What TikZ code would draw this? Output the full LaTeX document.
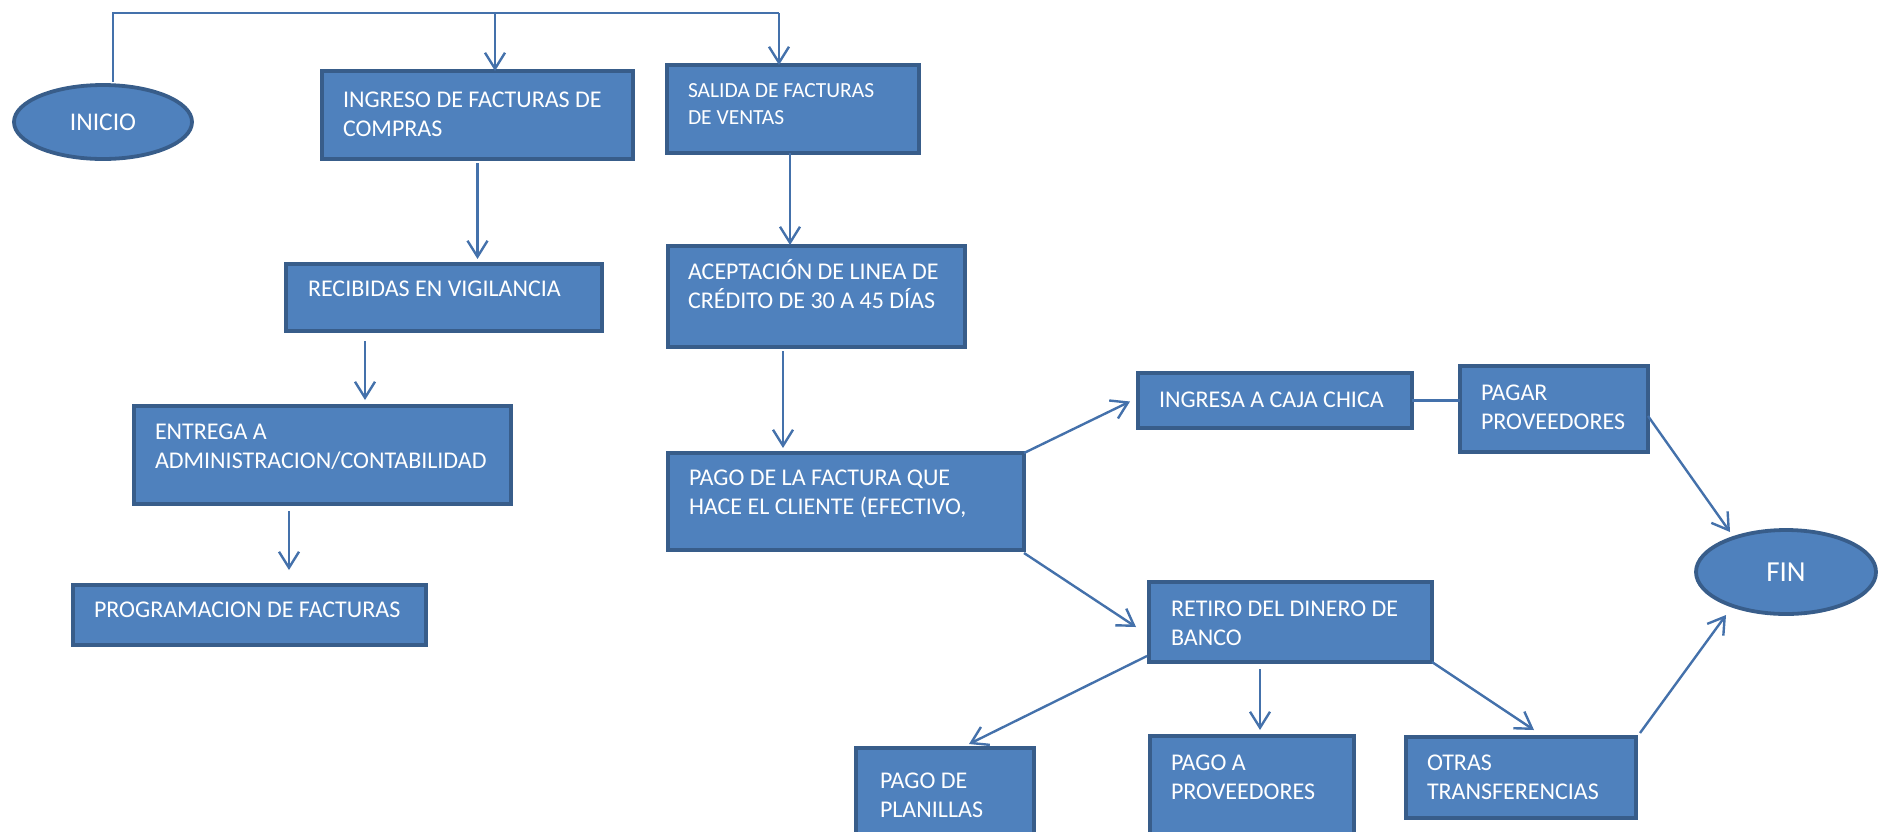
\documentclass[tikz,border=0pt]{standalone}
\usepackage{fontspec}
\setmainfont{Carlito}
\usetikzlibrary{arrows.meta,calc,shapes.geometric}
\definecolor{bf}{HTML}{4F81BD}
\definecolor{bd}{HTML}{385D8A}
\definecolor{ln}{HTML}{4471AB}
\newcommand{\bxt}[5]{\parbox[c][#2pt][t]{#1pt}{\raggedright\leftskip=#3pt\relax\vspace*{#4pt}\strut #5\par}}
\begin{document}
\begin{tikzpicture}[x=1pt,y=-1pt,
  box/.style={draw=bd, fill=bf, line width=3.8pt, inner sep=0pt, outer sep=0pt, anchor=north west, text=white, font=\fontsize{24}{29}\selectfont},
  oval/.style={ellipse, draw=bd, fill=bf, line width=3.8pt, inner sep=0pt, outer sep=0pt, text=white},
  conn/.style={draw=ln, line width=2.4pt},
  arr/.style={conn, -{Straight Barb[length=16pt,width=20pt]}}]
\useasboundingbox (0,0) rectangle (1881,831);
\clip (0,0) rectangle (1881,831);

\node[oval, minimum width=178pt, minimum height=74pt, font=\fontsize{25.5}{30}\selectfont] (inicio) at (103,122) {INICIO};
\node[oval, minimum width=180pt, minimum height=84pt, font=\fontsize{29}{34}\selectfont] (fin) at (1786,572) {FIN};

\node[box] (ingreso) at (322,71) {\bxt{311}{88}{21}{16.4}{INGRESO DE FACTURAS DE\\COMPRAS}};
\node[box, font=\fontsize{21.5}{27}\selectfont] (salida) at (667,65) {\bxt{252}{88}{21}{13.7}{SALIDA DE FACTURAS\\DE VENTAS}};
\node[box] (recibidas) at (286,264) {\bxt{316}{67}{22}{12.4}{RECIBIDAS EN VIGILANCIA}};
\node[box] (entrega) at (134,406) {\bxt{377}{98}{21}{13.4}{ENTREGA A\\ADMINISTRACION/CONTABILIDAD}};
\node[box] (prog) at (73,585) {\bxt{353}{60}{21}{12.4}{PROGRAMACION DE FACTURAS}};
\node[box] (acept) at (668,246) {\bxt{297}{101}{20}{13.4}{ACEPTACIÓN DE LINEA DE\\CRÉDITO DE 30 A 45 DÍAS}};
\node[box] (pago) at (668,453) {\bxt{356}{97}{21}{12.4}{PAGO DE LA FACTURA QUE\\HACE EL CLIENTE (EFECTIVO,}};
\node[box] (caja) at (1138,373) {\bxt{274}{55}{21}{14.4}{INGRESA A CAJA CHICA}};
\node[box] (pagar) at (1460,366) {\bxt{188}{86}{21}{14.4}{PAGAR\\PROVEEDORES}};
\node[box] (retiro) at (1149,582) {\bxt{283}{80}{22}{14.4}{RETIRO DEL DINERO DE\\BANCO}};
\node[box] (planillas) at (856,748) {\bxt{178}{92}{24}{20.4}{PAGO DE\\PLANILLAS}};
\node[box] (pagoa) at (1150,736) {\bxt{204}{98}{21}{14.4}{PAGO A\\PROVEEDORES}};
\node[box] (otras) at (1406,737) {\bxt{230}{81}{21}{13.4}{OTRAS\\TRANSFERENCIAS}};

\coordinate (tr) at (779,13);
\coordinate (tm) at (495,13);
\coordinate (x365) at (365,0);
\coordinate (x289) at (289,0);
\coordinate (x790) at (790,0);
\coordinate (x783) at (783,0);
\coordinate (x1260) at (1260,0);

\draw[conn] ($(inicio.north)+(10,-3)$) |- (tr);
\draw[arr] (tm) -- (tm |- ingreso.north);
\draw[arr] (tr) -- (tr |- salida.north);

\draw[arr] ($(ingreso.south)+(0,4)$) -- ($(ingreso.south |- recibidas.north)+(0,-5)$);
\draw[arr] ($(recibidas.south -| x365)+(0,10)$) -- ($(entrega.north -| x365)+(0,-6)$);
\draw[arr] ($(entrega.south -| x289)+(0,7)$) -- ($(prog.north -| x289)+(0,-15)$);
\draw[arr] (salida.south -| x790) -- ($(acept.north -| x790)+(0,-1)$);
\draw[arr] ($(acept.south -| x783)+(0,4)$) -- ($(pago.north -| x783)+(0,-5)$);
\draw[arr] (pago.north east) -- ($(caja.west)+(-8,1)$);
\draw[arr] ($(pago.south east)+(0,3)$) -- ($(retiro.west)+(-13,5)$);
\draw[conn] (caja.east) -- (caja.east -| pagar.west);
\draw[arr] ($(pagar.east)+(0,7)$) -- ($(fin.center)+(-56,-40)$);
\draw[arr] ($(otras.north east)+(4,-4)$) -- ($(fin.center)+(-60,43)$);
\draw[arr] ($(retiro.south west)+(-2,-6)$) -- ($(planillas.north)+(24,-4)$);
\draw[arr] ($(retiro.south -| x1260)+(0,7)$) -- ($(pagoa.north -| x1260)+(0,-6)$);
\draw[arr] (retiro.south east) -- ($(otras.north)+(13,-7)$);
\end{tikzpicture}
\end{document}
